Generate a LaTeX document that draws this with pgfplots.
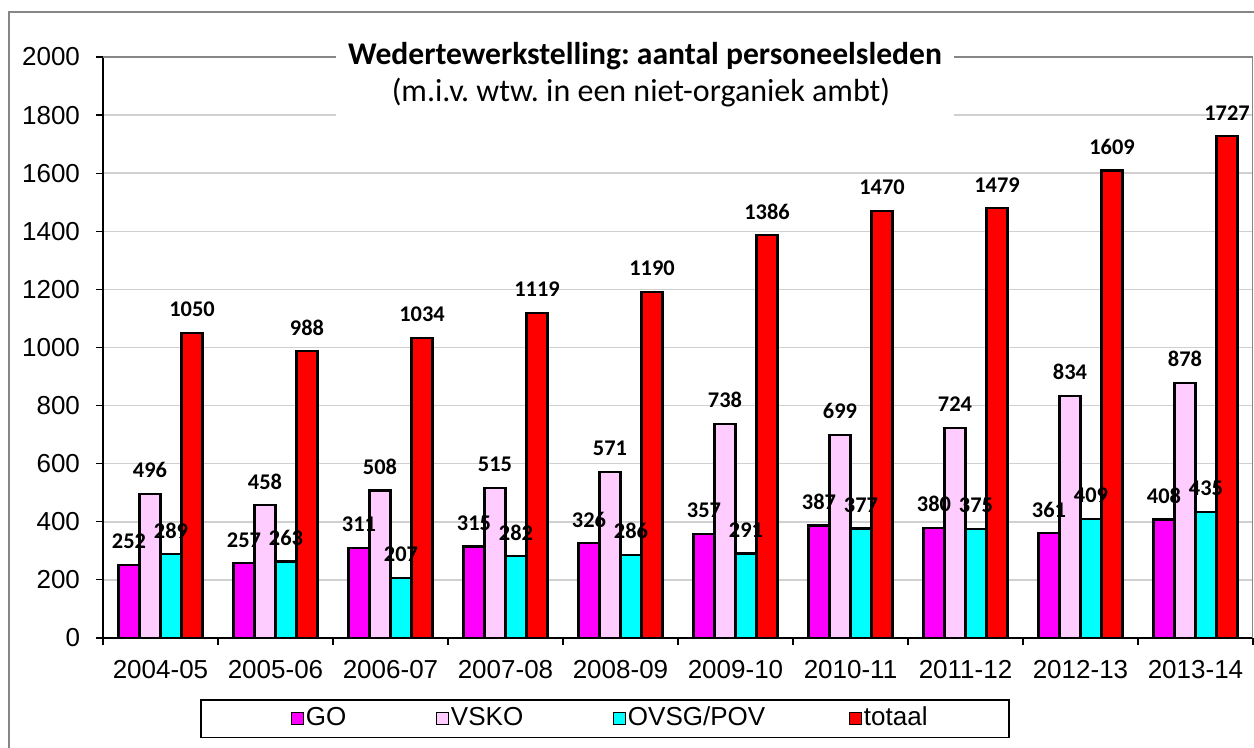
\documentclass[border=0pt]{standalone}
\usepackage{pgfplots}
\pgfplotsset{compat=1.18}
\usepackage{fontspec}
\setmainfont{Liberation Sans}
\newfontfamily\calibri{Carlito}
\frenchspacing
\definecolor{cGO}{HTML}{FF00FF}
\definecolor{cVSKO}{HTML}{FFCCFF}
\definecolor{cOVSG}{HTML}{00FFFF}
\definecolor{cTot}{HTML}{FF0000}
\definecolor{framec}{HTML}{868686}
\definecolor{gridc}{HTML}{D0D0D0}
\definecolor{borderc}{HTML}{868686}
\pgfplotsset{sqlegend/.style={legend image code/.code={\draw[##1, line width=0.5bp] (0bp,-3bp) rectangle (6bp,3bp);}}}
\begin{document}
\begin{tikzpicture}
\path[use as bounding box] (0,0) rectangle (627bp,374bp);
\draw[line width=1bp, color=framec] (4.5bp,-2bp) -- (4.5bp,368bp) -- (629bp,368bp);
\begin{axis}[
  at={(51.5bp,55bp)}, anchor=south west,
  scale only axis, width=575bp, height=290.5bp,
  xmin=-0.5, xmax=9.5, ymin=0, ymax=2000,
  axis x line*=bottom, axis y line*=left,
  axis line style={line width=0.75bp, black, -},
  every outer x axis line/.append style={-},
  every outer y axis line/.append style={-},
  xtick={-0.5,0.5,...,9.5},
  x tick label as interval,
  xticklabels={2004-05,2005-06,2006-07,2007-08,2008-09,2009-10,2010-11,2011-12,2012-13,2013-14},
  ytick={0,200,...,2000},
  tick align=outside, major tick length=3.5bp,
  tick style={black, line width=0.6bp},
  ymajorgrids, grid style={color=gridc, line width=0.75bp},
  ticklabel style={font=\fontsize{13bp}{15bp}\selectfont},
  xticklabel style={yshift=-4bp},
  yticklabel style={xshift=-4.5bp},
  /pgf/number format/assume math mode=true,
  /pgf/number format/1000 sep={},
  scaled y ticks=false,
  ybar, bar width=10.5bp,
  nodes near coords,
  every node near coord/.append style={font={\calibri\bfseries\fontsize{11.2bp}{13bp}\selectfont}, anchor=center, yshift=11.8bp, text=black},
  legend columns=4,
  legend style={at={(0.43652,-0.13941)}, anchor=center, draw=black, line width=0.6bp,
    inner xsep=45bp, inner ysep=3.5bp, column sep=0pt,
    font=\fontsize{13bp}{15bp}\selectfont,
    /tikz/every odd column/.append style={column sep=1bp},
    nodes={inner sep=0pt, text height=9.3bp, text depth=2.6bp, anchor=west}},
]
\addplot[fill=cGO, draw=black, line width=1.1bp, bar shift=-15.75bp, sqlegend]
  coordinates {(0,252) (1,257) (2,311) (3,315) (4,326) (5,357) (6,387) (7,380) (8,361) (9,408)};
\addlegendentry{\makebox[65bp][l]{GO}}
\addplot[fill=cVSKO, draw=black, line width=1.1bp, bar shift=-5.25bp, sqlegend]
  coordinates {(0,496) (1,458) (2,508) (3,515) (4,571) (5,738) (6,699) (7,724) (8,834) (9,878)};
\addlegendentry{\makebox[81bp][l]{VSKO}}
\addplot[fill=cOVSG, draw=black, line width=1.1bp, bar shift=5.25bp, sqlegend]
  coordinates {(0,289) (1,263) (2,207) (3,282) (4,286) (5,291) (6,377) (7,375) (8,409) (9,435)};
\addlegendentry{\makebox[110.5bp][l]{OVSG/POV}}
\addplot[fill=cTot, draw=black, line width=1.1bp, bar shift=15.75bp, sqlegend]
  coordinates {(0,1050) (1,988) (2,1034) (3,1119) (4,1190) (5,1386) (6,1470) (7,1479) (8,1609) (9,1727)};
\addlegendentry{\makebox[27.5bp][l]{totaal}}
\draw[borderc, line width=0.9bp] (rel axis cs:0,1) -- (rel axis cs:1,1) -- (rel axis cs:1,0);
\end{axis}
\fill[white] (168bp,315.5bp) rectangle (477bp,355bp);
\node[anchor=base, inner sep=0pt, font={\calibri\bfseries\fontsize{15.8bp}{18bp}\selectfont}] at (322.5bp,341.5bp) {Wedertewerkstelling: aantal personeelsleden};
\node[anchor=base, inner sep=0pt, font={\calibri\fontsize{16bp}{18bp}\selectfont}] at (320.5bp,323bp) {(m.i.v. wtw. in een niet-organiek ambt)};
\end{tikzpicture}
\end{document}
